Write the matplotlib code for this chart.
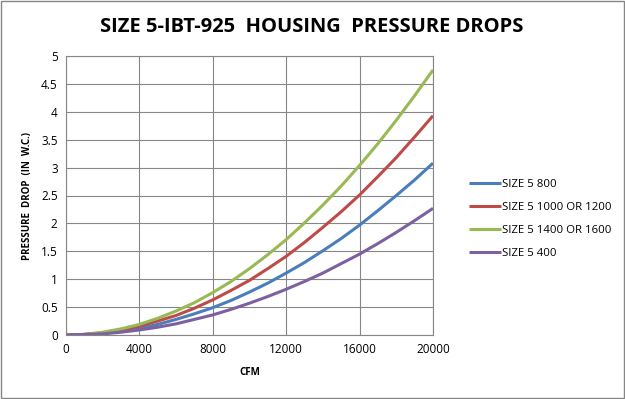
import numpy as np
import matplotlib.pyplot as plt

# datos
cfm = [0, 1000, 2000, 3000, 4000, 5000, 6000, 7000, 8000, 9000, 10000,
       11000, 12000, 13000, 14000, 15000, 16000, 17000, 18000, 19000, 20000]
size5_800 = [0, 0.01, 0.03, 0.07, 0.12, 0.19, 0.28, 0.38, 0.49, 0.62, 0.77,
             0.93, 1.11, 1.30, 1.51, 1.73, 1.97, 2.23, 2.50, 2.78, 3.08]
size5_1000 = [0, 0.01, 0.04, 0.09, 0.16, 0.25, 0.35, 0.48, 0.63, 0.80, 0.98,
              1.19, 1.41, 1.66, 1.93, 2.21, 2.51, 2.84, 3.18, 3.55, 3.93]
size5_1400 = [0, 0.01, 0.05, 0.11, 0.19, 0.30, 0.43, 0.58, 0.76, 0.96, 1.19,
              1.44, 1.71, 2.01, 2.33, 2.67, 3.04, 3.43, 3.85, 4.29, 4.75]
size5_400 = [0, 0.01, 0.02, 0.05, 0.09, 0.14, 0.20, 0.28, 0.36, 0.46, 0.57,
             0.69, 0.82, 0.96, 1.11, 1.28, 1.45, 1.64, 1.84, 2.05, 2.27]

series = [
    ("SIZE 5 800", size5_800, "#4a7ebb"),
    ("SIZE 5 1000 OR 1200", size5_1000, "#be4b48"),
    ("SIZE 5 1400 OR 1600", size5_1400, "#98b954"),
    ("SIZE 5 400", size5_400, "#7d60a0"),
]

plt.rcParams['font.family'] = ['Open Sans', 'DejaVu Sans']

fig = plt.figure(figsize=(6.25, 3.99), dpi=100)
ax = fig.add_axes([66/625, 1 - 335/399, (433-66)/625, (335-56)/399])

for nombre, valores, color in series:
    ax.plot(cfm, valores, color=color, lw=2.2, label=nombre, solid_capstyle='butt')

ax.set_xlim(0, 20000)
ax.set_ylim(0, 5)
ax.set_xticks(np.arange(0, 20001, 4000))
ax.set_yticks(np.arange(0, 5.01, 0.5))
ax.set_yticklabels(["0", "0.5", "1", "1.5", "2", "2.5", "3", "3.5", "4", "4.5", "5"])
ax.grid(True, color="#868686", lw=0.8)
ax.set_axisbelow(True)
for s in ax.spines.values():
    s.set_color("#868686")
    s.set_linewidth(0.8)
ax.tick_params(length=0, labelsize=8.5, pad=6)

ax.set_xlabel("CFM", fontsize=7, fontweight='bold', labelpad=8)
ax.set_ylabel("PRESSURE  DROP  (IN  W.C.)", fontsize=7, fontweight='bold', labelpad=6)

fig.text(312/625, 1 - 27/399, "SIZE 5-IBT-925  HOUSING  PRESSURE DROPS",
         ha='center', va='center', fontsize=14.5, fontweight='bold')

ax.legend(loc='center left', bbox_to_anchor=(1.07, 0.415), frameon=False,
          fontsize=8.2, handlelength=2.8, handletextpad=0.1, labelspacing=1.05)

# borde del grafico
fig.patches.append(plt.Rectangle((0.001, 0.002), 0.997, 0.996, transform=fig.transFigure,
                                 fill=False, edgecolor="#868686", lw=1))

fig.savefig("out.png", dpi=100)
